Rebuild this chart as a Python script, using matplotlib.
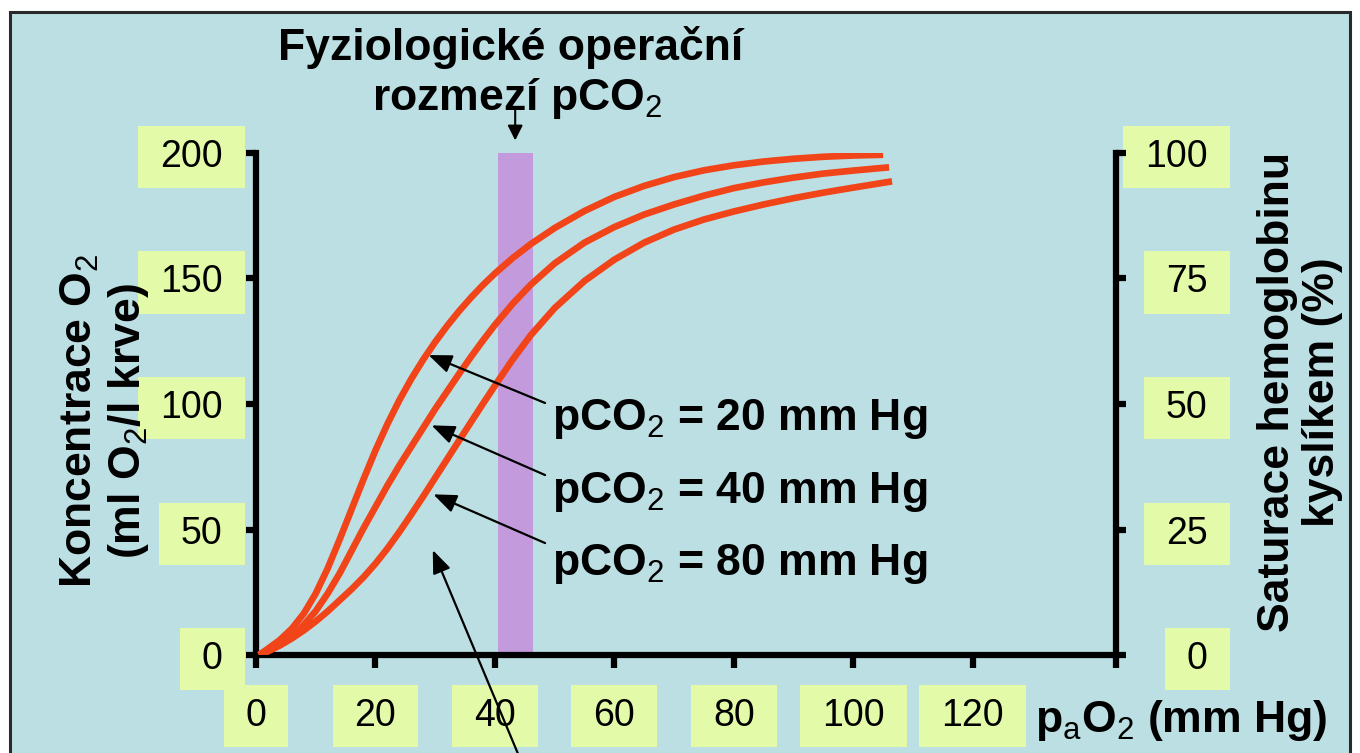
import matplotlib
matplotlib.use('Agg')
import matplotlib.pyplot as plt
from matplotlib.patches import Rectangle

plt.rcParams['font.family'] = ['Liberation Sans', 'DejaVu Sans']
plt.rcParams['mathtext.fontset'] = 'custom'
plt.rcParams['mathtext.rm'] = 'Liberation Sans'
plt.rcParams['mathtext.it'] = 'Liberation Sans:italic'
plt.rcParams['mathtext.bf'] = 'Liberation Sans:bold'

# values (pO2 in mm Hg, O2 concentration in ml O2/l)
po2 = [0.5, 2, 4, 6, 8, 10, 12, 14, 16, 18, 20, 22, 24, 26, 28, 30, 32, 34,
       36, 38, 40, 43, 46, 50, 55, 60, 65, 70, 75, 80, 85, 90, 95, 100]
conc_20 = [0, 2.5, 6, 10.5, 16.5, 24.5, 34.5, 46, 58, 70, 81.5, 92, 101.5,
           110, 117.7, 124.7, 131.1, 137, 142.4, 147.4, 152, 158.2, 163.7,
           170.1, 176.9, 182.5, 186.9, 190.4, 193.1, 195.1, 196.6, 197.7,
           198.5, 199]
conc_40 = [0, 1.5, 4, 7.5, 12, 17.5, 24.5, 32.5, 41.5, 50.5, 59, 67.5, 75.5,
           83, 90.5, 98, 105, 112, 118.8, 125.3, 131.5, 140, 147.5, 156,
           164.3, 170.5, 175.5, 179.5, 183, 186, 188.3, 190.2, 191.8, 193]
conc_80 = [0, 1.5, 3.8, 6.6, 9.8, 13.4, 17.4, 21.8, 26.2, 31, 36.4, 42.4, 49,
           56, 63.2, 70.6, 78, 85.4, 92.8, 100.1, 107.3, 117.8, 127.4, 138.2,
           149, 157.5, 164.3, 169.5, 173.5, 176.7, 179.5, 182, 184.2, 186.2]
end_po2 = [105, 106, 106.5]
end_conc = [199.3, 194.3, 188.7]
curve_labels = ['20', '40', '80']

# physiological pCO2 band
band = (40.5, 46.3)

x_ticks = [0, 20, 40, 60, 80, 100, 120, 144]
x_ticklabels = ['0', '20', '40', '60', '80', '100', '120', '']
y_ticks = [0, 50, 100, 150, 200]
sat_ticks = [0, 25, 50, 75, 100]

bg = '#BCDFE3'
red = '#F24419'
green = '#E3FBA8'
purple = '#C39BDC'

fig = plt.figure(figsize=(13.6, 7.53), dpi=100)
fig.patches.append(Rectangle((10 / 1360, -0.05), 1340 / 1360, 1.05 - 12 / 753,
                             transform=fig.transFigure, fc=bg, ec='#2a2a2a',
                             lw=2.2, zorder=-5))

ax = fig.add_axes([256 / 1360, 98 / 753, 860 / 1360, 502 / 753])
ax.set_facecolor('none')
ax.set_xlim(0, 144)
ax.set_ylim(0, 200)

ax.axvspan(band[0], band[1], ymin=0, ymax=1, color=purple, lw=0, zorder=1)

series = [conc_20, conc_40, conc_80]
for i, s in enumerate(series):
    xs = po2 + [end_po2[i]]
    ys = s + [end_conc[i]]
    ax.plot(xs, ys, color=red, lw=4.8, solid_capstyle='butt',
            solid_joinstyle='round', zorder=3)

for side in ['top', 'right']:
    ax.spines[side].set_visible(False)
for side in ['left', 'bottom']:
    ax.spines[side].set_linewidth(4.5)
ax.set_xticks(x_ticks)
ax.set_xticklabels(x_ticklabels)
ax.set_yticks(y_ticks)
ax.tick_params(axis='both', direction='out', width=4.5, labelsize=27)
ax.tick_params(axis='x', length=9, pad=22)
ax.tick_params(axis='y', length=7, pad=17)

ax2 = ax.twinx()
ax2.set_ylim(0, 100)
ax2.set_yticks(sat_ticks)
for side in ['top', 'left', 'bottom']:
    ax2.spines[side].set_visible(False)
ax2.spines['right'].set_linewidth(4.5)
ax2.tick_params(axis='y', direction='out', length=7, width=4.5,
                labelsize=27, pad=59)
for lbl in ax2.get_yticklabels():
    lbl.set_horizontalalignment('right')

# curve labels with arrows
label_base = [89.6, 60.6, 31.9]
tails = [(48.4, 100.4), (48.4, 71.7), (48.4, 44.6)]
heads = [(28.9, 119.5), (29.4, 91.5), (29.7, 64)]
arrow = dict(arrowstyle='-|>,head_length=0.5,head_width=0.2', color='black',
             lw=1.6, mutation_scale=28, shrinkA=0, shrinkB=0)
for i in range(3):
    ax.text(49.6, label_base[i], 'pCO$_\\mathrm{2}$ = ' + curve_labels[i] + ' mm Hg',
            fontsize=32, fontweight='bold', ha='left', va='baseline', zorder=5)
    ax.annotate('', xy=heads[i], xytext=tails[i], arrowprops=arrow, zorder=5)
ax.annotate('', xy=(29.6, 41.8), xytext=(47.5, -60), arrowprops=arrow,
            annotation_clip=False, zorder=5)

# band annotation
fig.text(511 / 1360, 1 - 60 / 753, 'Fyziologické operační', fontsize=32,
         fontweight='bold', ha='center', va='baseline')
fig.text(517 / 1360, 1 - 110 / 753, 'rozmezí pCO$_\\mathrm{2}$', fontsize=32,
         fontweight='bold', ha='center', va='baseline')
ax.annotate('', xy=(43.4, 205), xytext=(43.4, 217),
            arrowprops=dict(arrowstyle='-|>,head_length=0.5,head_width=0.25',
                            color='black', lw=1.5, mutation_scale=18,
                            shrinkA=0, shrinkB=0),
            annotation_clip=False)

# axis titles
fig.text(105 / 1360, 1 - 421 / 753,
         'Koncentrace O$_\\mathrm{2}$\n(ml O$_\\mathrm{2}$/l krve)',
         fontsize=32, fontweight='bold', rotation=90, ha='center',
         va='center', linespacing=1.15)
fig.text(1300 / 1360, 1 - 392 / 753, 'Saturace hemoglobinu\nkyslíkem (%)',
         fontsize=32, fontweight='bold', rotation=90, ha='center',
         va='center', linespacing=1.15)
fig.text(1035 / 1360, 1 - 732 / 753, 'p$_\\mathrm{a}$O$_\\mathrm{2}$ (mm Hg)',
         fontsize=32, fontweight='bold', ha='left', va='baseline')

# green boxes behind the tick labels
fig.canvas.draw()
renderer = fig.canvas.get_renderer()
inv = fig.transFigure.inverted()
for lbl in ax.get_xticklabels() + ax.get_yticklabels() + ax2.get_yticklabels():
    if not lbl.get_text():
        continue
    bb = lbl.get_window_extent(renderer)
    (x0, y0), (x1, y1) = inv.transform([(bb.x0 - 22, bb.y0 - 13),
                                        (bb.x1 + 22, bb.y1 + 13)])
    fig.patches.append(Rectangle((x0, y0), x1 - x0, y1 - y0,
                                 transform=fig.transFigure, fc=green,
                                 ec='none', zorder=-1))

fig.savefig('out.png', dpi=100, facecolor='white')
